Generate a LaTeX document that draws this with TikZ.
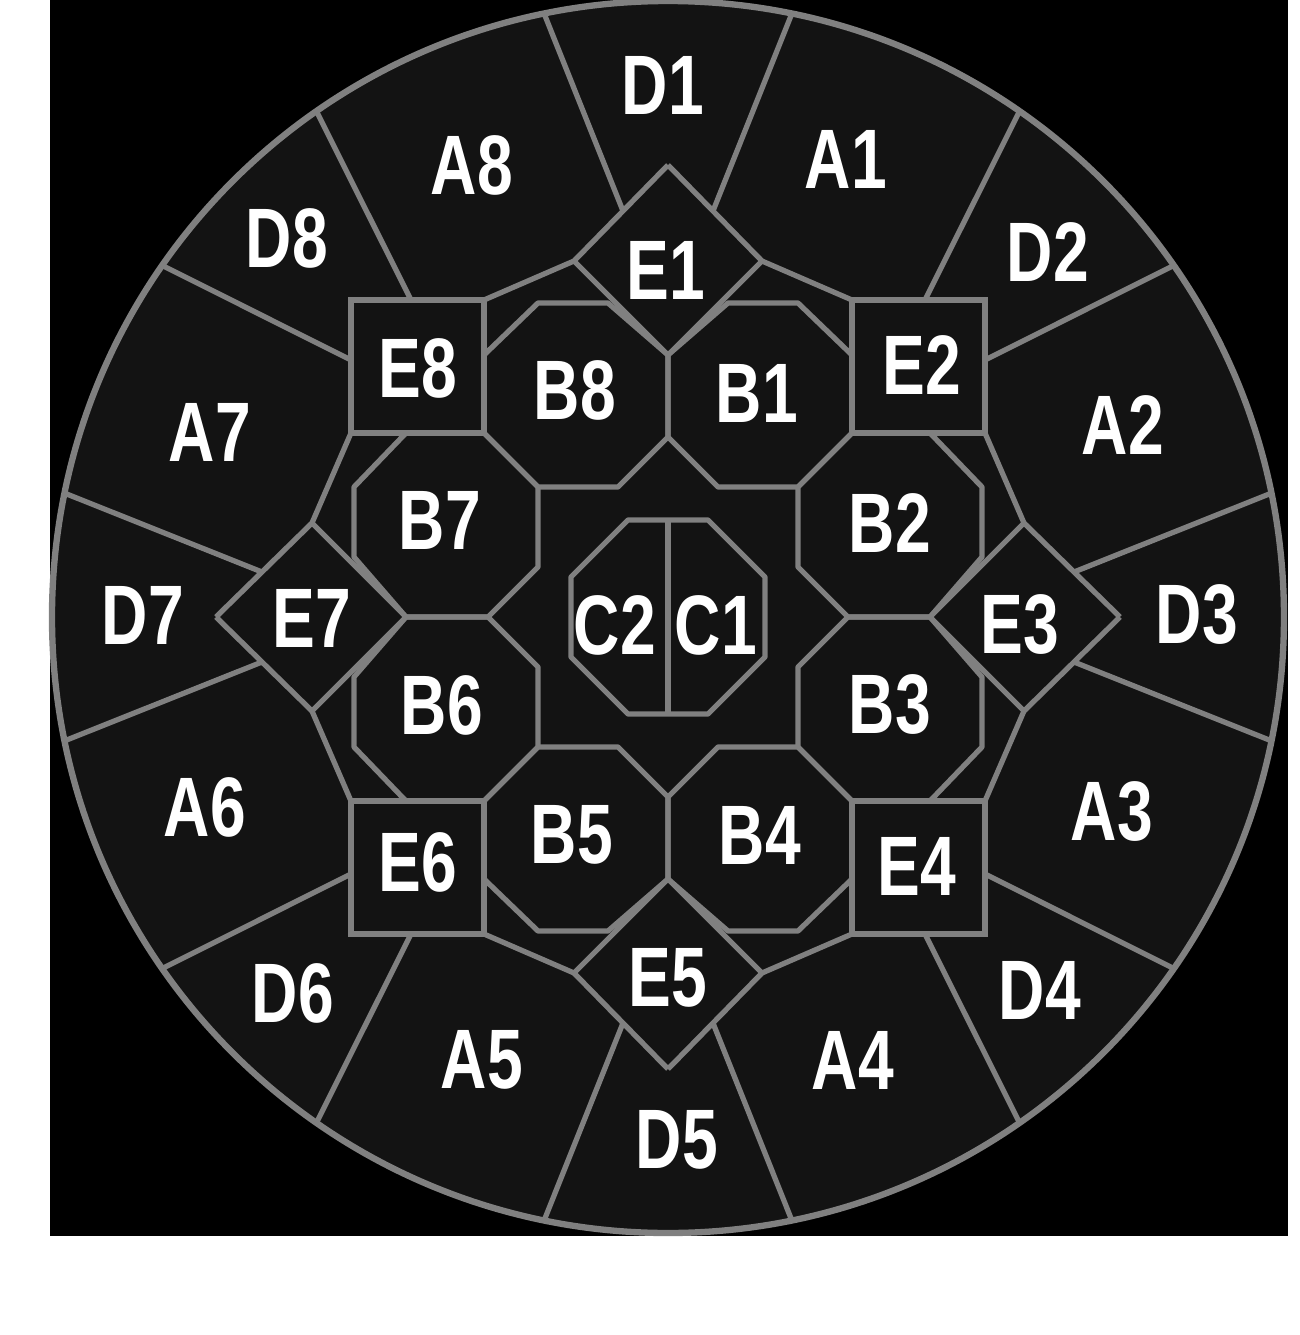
\documentclass[tikz,border=0pt]{standalone}
\usepackage{fontspec}
\setsansfont{Liberation Sans}[FakeStretch=0.76]
\definecolor{rim}{RGB}{128,128,128}
\definecolor{disc}{RGB}{19,19,19}

\begin{document}
\begin{tikzpicture}[x=0.01cm,y=0.01cm,
  wall/.style={draw=rim,line width=1.5pt,line join=round},
  lab/.style={text=white,font=\sffamily\bfseries\fontsize{24}{24}\selectfont,inner sep=0pt}]
\useasboundingbox (-668,617) rectangle (632,-718);
\fill[white] (-668,617) rectangle (632,-718);
\fill[black] (-618,617) rectangle (620,-619);
\fill[disc] (0,0) circle (616);
% one octant, repeated eight times
\foreach \r in {0,90,180,270}{
  \foreach \s in {1,-1}{
    \begin{scope}[rotate=\r,xscale=\s]
      \draw[wall] (0,180) -- (0,262) -- (60,314) -- (130,314) -- (184,262)
        -- (184,184) -- (130,130) -- (50,130) -- cycle;
      \draw[wall] (0,452) -- (94,356) -- (0,262);
      \draw[wall] (184,184) -- (184,317) -- (320,317);
      \draw[wall] (94,356) -- (184,317);
      \draw[wall] (45,406) -- (78.4:616);
      \draw[wall] (257,317) -- (55.2:616);
    \end{scope}
  }
}
% centre
\draw[wall] (-40,97) -- (40,97) -- (97,40) -- (97,-40) -- (40,-97)
  -- (-40,-97) -- (-97,-40) -- (-97,40) -- cycle;
\draw[wall] (0,97) -- (0,-97);
\draw[rim,line width=1.8pt] (0,0) circle (616);
% labels
\foreach \n/\x/\y in {D1/-5/532,A1/178/458,D2/380/365,A2/455/192,
  D3/529/2,A3/444/-195,D4/372/-373,A4/185/-443,D5/9/-523,A5/-186/-443,
  D6/-375/-376,A6/-463/-190,D7/-525/2,A7/-458/185,D8/-381/379,A8/-196/452,
  E1/-2/347,E2/254/252,E3/352/-8,E4/249/-249,E5/0/-361,E6/-250/-245,
  E7/-356/-1,E8/-250/249,B1/89/224,B2/222/94,B3/222/-88,B4/92/-218,
  B5/-96/-218,B6/-226/-88,B7/-228/97,B8/-93/227,C2/-53/-8,C1/48/-8}
  \node[lab] (\n) at (\x,\y) {\n};
\end{tikzpicture}
\end{document}
